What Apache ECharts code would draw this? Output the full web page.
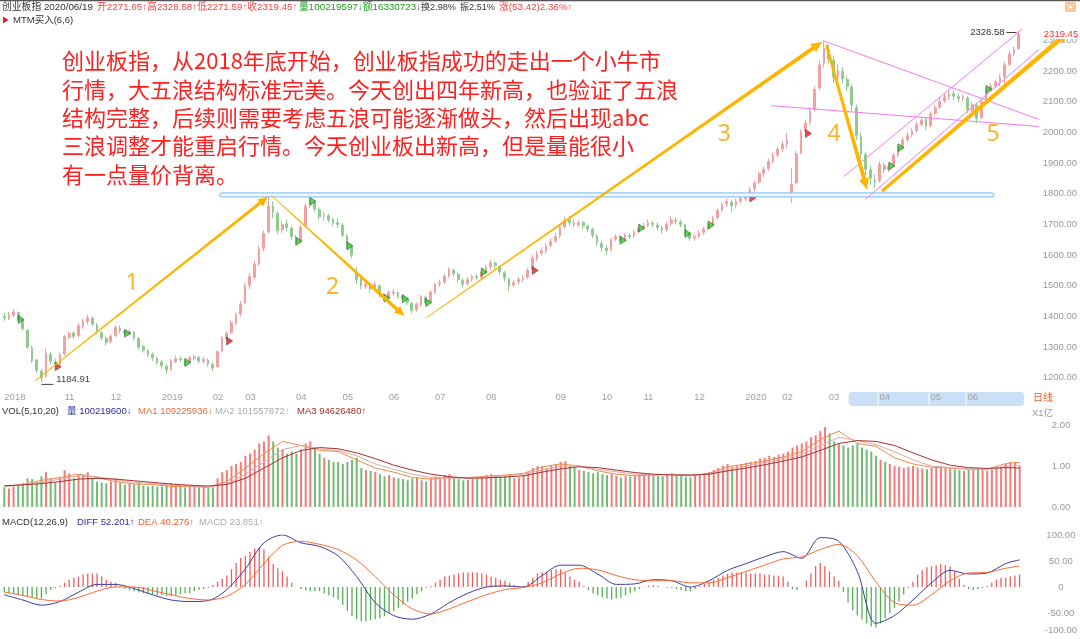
<!DOCTYPE html>
<html><head><meta charset="utf-8">
<script src="https://cdn.jsdelivr.net/npm/echarts@6/dist/echarts.min.js"></script>
<style>html,body{margin:0;padding:0;background:#fff}#c{width:1080px;height:639px}</style>
</head><body><div id="c"></div>
<script>
// ---------------- data ----------------
const monthLabels = ['2018','11','12','2019','02','03','04','05','06','07','08','09','10','11','12','2020','02','03','04','05','06'];
const monthStartBar = [0,13,23,34,45,52,63,73,83,93,104,119,129,138,149,160,168,178,189,200,208];
// [open, close, low, high]
const candles = [
[1400,1395,1385,1412],[1392,1405,1388,1415],[1404,1415,1398,1425],[1412,1390,1385,1416],[1388,1360,1355,1392],[1355,1300,1295,1358],[1298,1255,1248,1305],[1258,1225,1215,1262],[1222,1200,1185,1230],[1205,1280,1200,1295],
[1276,1255,1245,1285],[1252,1245,1236,1262],[1244,1275,1240,1282],[1278,1335,1272,1340],[1332,1345,1325,1352],[1346,1335,1325,1352],[1338,1370,1332,1378],[1368,1385,1360,1392],[1383,1395,1375,1406],[1394,1375,1368,1400],
[1372,1350,1342,1378],[1348,1330,1322,1352],[1328,1315,1305,1335],[1318,1335,1312,1342],[1338,1365,1332,1372],[1362,1355,1345,1370],[1352,1345,1336,1358],[1345,1350,1338,1360],[1348,1330,1322,1352],[1328,1300,1292,1332],
[1302,1290,1282,1308],[1288,1275,1268,1294],[1276,1265,1255,1282],[1262,1250,1242,1268],[1252,1240,1230,1258],[1238,1225,1212,1244],[1228,1255,1222,1262],[1252,1262,1248,1272],[1262,1258,1250,1270],[1256,1250,1240,1262],
[1252,1265,1245,1272],[1264,1268,1256,1276],[1266,1255,1248,1272],[1254,1260,1246,1268],[1258,1245,1236,1262],[1244,1232,1222,1250],[1236,1285,1232,1290],[1288,1330,1282,1336],[1328,1345,1320,1352],[1348,1380,1342,1388],
[1378,1405,1370,1412],[1408,1440,1400,1450],[1445,1500,1440,1510],[1502,1530,1490,1540],[1528,1570,1520,1582],[1572,1620,1565,1630],[1622,1670,1612,1680],[1675,1760,1670,1790],[1758,1740,1720,1775],[1735,1680,1668,1742],
[1682,1700,1672,1712],[1702,1690,1678,1715],[1688,1660,1650,1694],[1655,1645,1632,1666],[1648,1690,1640,1698],[1695,1760,1690,1768],[1765,1775,1752,1792],[1772,1750,1740,1780],[1748,1725,1715,1755],[1726,1730,1712,1742],
[1728,1715,1705,1735],[1716,1705,1695,1722],[1706,1700,1688,1720],[1698,1665,1658,1704],[1662,1630,1620,1668],[1628,1600,1590,1635],[1545,1520,1505,1560],[1522,1500,1488,1530],[1498,1505,1490,1518],[1506,1490,1478,1512],
[1492,1505,1485,1515],[1500,1470,1462,1505],[1468,1460,1450,1476],[1462,1478,1455,1485],[1476,1480,1468,1490],[1478,1465,1458,1484],[1466,1458,1448,1472],[1456,1445,1436,1462],[1442,1420,1410,1448],[1422,1440,1415,1446],
[1438,1465,1432,1470],[1462,1445,1438,1468],[1448,1480,1442,1485],[1478,1505,1472,1510],[1506,1510,1496,1520],[1512,1530,1505,1538],[1532,1552,1525,1560],[1550,1540,1530,1556],[1538,1520,1512,1542],[1518,1505,1495,1524],
[1506,1520,1500,1528],[1522,1530,1514,1536],[1530,1528,1518,1538],[1526,1545,1520,1552],[1546,1560,1538,1568],[1562,1575,1552,1585],[1574,1565,1555,1580],[1562,1545,1536,1566],[1542,1525,1515,1548],[1522,1500,1482,1526],
[1502,1510,1495,1518],[1512,1520,1505,1528],[1520,1525,1512,1535],[1528,1550,1522,1558],[1555,1590,1550,1600],[1588,1605,1580,1614],[1606,1615,1598,1624],[1614,1630,1606,1640],[1632,1645,1625,1655],[1646,1660,1640,1672],
[1662,1690,1655,1700],[1692,1712,1686,1725],[1714,1705,1695,1728],[1704,1700,1690,1716],[1698,1705,1692,1714],[1706,1695,1686,1712],[1694,1685,1676,1700],[1684,1665,1656,1690],[1662,1640,1630,1668],[1638,1625,1612,1645],
[1622,1615,1602,1632],[1618,1650,1612,1656],[1652,1660,1645,1668],[1658,1648,1640,1665],[1650,1665,1644,1672],[1664,1660,1652,1672],[1662,1675,1655,1682],[1676,1688,1670,1696],[1690,1695,1682,1705],[1696,1705,1690,1716],
[1704,1700,1690,1712],[1698,1690,1680,1706],[1688,1680,1670,1694],[1682,1700,1676,1708],[1702,1715,1695,1728],[1714,1710,1700,1724],[1708,1700,1690,1716],[1698,1670,1662,1702],[1668,1655,1646,1674],[1656,1660,1648,1668],
[1662,1672,1655,1680],[1674,1685,1666,1692],[1686,1698,1680,1706],[1700,1720,1694,1728],[1722,1745,1716,1752],[1746,1765,1740,1772],[1766,1775,1758,1784],[1772,1760,1740,1780],[1762,1775,1752,1784],[1776,1785,1768,1794],
[1784,1790,1775,1800],[1792,1815,1786,1822],[1816,1835,1808,1844],[1838,1865,1832,1872],[1866,1880,1855,1890],[1882,1905,1875,1914],[1906,1925,1898,1934],[1926,1945,1918,1955],[1946,1960,1935,1972],[1962,1975,1950,1998],
[1800,1830,1770,1884],[1835,1930,1830,1940],[1932,2000,1928,2010],[2004,2030,1996,2042],[2032,2070,2025,2082],[2075,2140,2068,2150],[2145,2220,2138,2235],[2225,2275,2210,2297],[2270,2240,2225,2285],[2235,2180,2160,2250],
[2182,2200,2170,2222],[2198,2175,2160,2212],[2172,2150,2135,2185],[2148,2090,2070,2158],[2080,1990,1975,2090],[1985,1930,1915,2000],[1928,1880,1860,1935],[1878,1850,1830,1890],[1845,1840,1820,1862],[1842,1895,1836,1905],
[1892,1880,1868,1900],[1878,1890,1870,1898],[1892,1925,1886,1932],[1926,1950,1918,1958],[1952,1975,1945,1985],[1976,1990,1968,2000],[1992,2005,1985,2015],[2006,2025,1998,2035],[2026,2040,2018,2052],[2042,2020,2008,2048],
[2022,2060,2015,2068],[2062,2080,2055,2090],[2082,2100,2075,2112],[2102,2115,2095,2128],[2118,2125,2105,2138],[2126,2118,2105,2134],[2116,2110,2098,2126],[2112,2115,2100,2124],[2112,2075,2062,2118],[2072,2090,2060,2100],
[2088,2045,2030,2094],[2048,2100,2042,2108],[2102,2140,2098,2148],[2142,2150,2135,2160],[2152,2165,2145,2172],[2166,2180,2150,2190],[2182,2220,2145,2230],[2222,2255,2215,2265],[2258,2270,2248,2280],[2271.65,2319.45,2271.59,2328.58]
];
// volume, 亿
const volume = [
0.48,0.45,0.5,0.52,0.58,0.7,0.68,0.6,0.75,0.85, 0.7,0.6,0.72,0.9,0.82,0.7,0.8,0.78,0.85,0.7,
0.62,0.6,0.58,0.62,0.7,0.6,0.55,0.58,0.55,0.6, 0.52,0.5,0.52,0.5,0.5,0.55,0.58,0.52,0.5,0.48,
0.5,0.52,0.48,0.5,0.46,0.48,0.7,0.85,0.9,1.0, 1.05,1.1,1.25,1.3,1.4,1.55,1.6,1.75,1.6,1.45,
1.4,1.3,1.35,1.3,1.4,1.55,1.6,1.45,1.3,1.2, 1.15,1.1,1.1,1.05,1.1,1.15,1.2,0.95,0.9,0.88,
0.85,0.8,0.75,0.78,0.72,0.7,0.68,0.65,0.7,0.72, 0.65,0.62,0.7,0.75,0.72,0.78,0.8,0.7,0.68,0.65,
0.66,0.68,0.7,0.75,0.78,0.8,0.76,0.72,0.75,0.8, 0.7,0.72,0.78,0.85,0.95,1.0,0.98,0.95,1.0,1.05,
1.1,1.12,1.0,0.95,0.9,0.88,0.85,0.82,0.85,0.8, 0.78,0.8,0.76,0.72,0.75,0.74,0.76,0.78,0.8,0.82,
0.78,0.76,0.75,0.78,0.82,0.8,0.78,0.74,0.72,0.76, 0.78,0.82,0.86,0.9,0.95,1.0,1.05,0.98,1.02,1.05,
1.08,1.1,1.12,1.18,1.2,1.25,1.22,1.28,1.3,1.35, 1.45,1.5,1.55,1.6,1.7,1.75,1.85,1.95,1.8,1.6,
1.55,1.5,1.45,1.5,1.55,1.45,1.4,1.35,1.25,1.15, 1.1,1.05,1.0,0.98,0.95,0.98,1.0,0.96,0.94,0.92,
0.95,0.98,1.0,0.96,0.94,0.92,0.9,0.88,0.9,0.92, 0.95,0.9,0.88,0.92,0.95,0.98,1.05,1.1,1.08,1.0
];
// volume moving averages, sampled every 4th bar (last = final bar)
const volMA1 = [0.5,0.55,0.65,0.72,0.8,0.72,0.62,0.56,0.55,0.5, 0.5,0.48,0.62,0.95,1.3,1.6,1.5,1.38,1.35,1.15, 0.95,0.85,0.72,0.68,0.72,0.72,0.75,0.78,0.82,0.98, 1.05,1.0,0.88,0.8,0.76,0.78,0.8,0.76,0.82,0.98, 1.05,1.12,1.22,1.35,1.65,1.85,1.55,1.48,1.2,1.05, 0.97,0.95,0.92,0.92,1.06,1.09];
const volMA2 = [0.5,0.54,0.6,0.68,0.76,0.74,0.66,0.6,0.57,0.53, 0.51,0.49,0.56,0.8,1.1,1.4,1.5,1.42,1.38,1.25, 1.05,0.92,0.8,0.72,0.7,0.71,0.73,0.76,0.8,0.9, 1.0,1.0,0.92,0.86,0.8,0.78,0.79,0.78,0.8,0.92, 1.0,1.08,1.18,1.28,1.5,1.7,1.62,1.52,1.35,1.15, 1.0,0.96,0.93,0.92,0.99,1.02];
const volMA3 = [0.52,0.54,0.57,0.62,0.68,0.7,0.68,0.64,0.6,0.56, 0.53,0.51,0.55,0.7,0.95,1.2,1.38,1.45,1.42,1.32, 1.18,1.02,0.9,0.8,0.74,0.7,0.71,0.73,0.76,0.85, 0.93,0.98,0.96,0.9,0.84,0.8,0.78,0.78,0.8,0.88, 0.95,1.03,1.12,1.22,1.38,1.55,1.62,1.6,1.5,1.32, 1.15,1.02,0.96,0.94,0.96,0.95];
// MACD lines sampled every 4th bar (last = final bar)
const macdDiff = [-15,-25,-35,-28,-10,5,5,-3,-15,-25, -28,-26,-5,35,85,100,85,78,60,20, -30,-55,-62,-52,-30,-12,0,2,0,22, 42,42,25,5,6,14,12,0,12,32, 45,58,68,55,95,88,30,-70,-55,-25, 8,32,25,27,45,52.2];
const macdDea  = [-10,-16,-24,-27,-20,-8,0,0,-7,-15, -22,-25,-18,5,45,80,88,82,72,52, 20,-15,-42,-52,-42,-28,-15,-5,-1,8, 25,36,33,22,14,12,12,8,8,18, 30,42,54,58,72,82,60,10,-30,-35, -15,12,27,28,36,40.3];
const macdHist = [
-10,-12,-14,-16,-18,-18,-20,-22,-22,-14, -6,-2,2,8,14,18,20,24,26,26,
26,20,14,10,8,2,-4,-6,-8,-10, -12,-14,-14,-16,-16,-18,-18,-16,-14,-12,
-12,-8,-6,-4,-2,4,10,16,22,34, 46,56,60,68,74,76,72,58,44,36,
30,20,8,0,-4,-6,-8,-8,-8,-12, -16,-20,-24,-34,-46,-56,-62,-66,-66,-64,
-62,-60,-56,-50,-46,-40,-34,-28,-22,-14, -8,-2,2,8,14,20,22,24,26,28,
28,28,28,26,24,20,18,14,12,8, 4,2,2,10,18,26,28,30,32,34,
34,28,20,14,10,2,-6,-12,-16,-20, -22,-24,-22,-20,-16,-12,-8,-4,0,2,
4,2,0,-2,-2,-4,-6,-8,-8,-4, 2,6,8,14,18,22,26,28,28,28,
28,26,26,26,24,24,22,22,20,10, -4,-6,0,12,26,40,46,40,30,20,
12,-10,-30,-45,-55,-62,-70,-76,-78,-70, -60,-50,-40,-28,-14,-2,10,24,32,38,
40,42,44,42,40,30,16,4,-4,-6, -4,-2,2,8,14,18,18,20,22,24
];
// MTM signal bars
const sellSignals = [3,26,39,63,66,74,82,86,91,103,133,137,147,152,191,193,212];
const buySignals = [11,48,114,161,173];
const priceTicks = [1200,1300,1400,1500,1600,1700,1800,1900,2000,2100,2200,2300];
// annotations in [bar, price]
const waveArrows = [[[6.6,1189],[56.9,1790]],[[57.7,1794],[86.4,1401]],[[91.2,1396],[176.6,2295]],[[177.5,2286],[186.3,1814]],[[189.5,1808],[229.9,2329]]];
const pinkLines = [[[176.8,2299],[223.4,2042]],[[165.6,2087],[223.4,2019]],[[181.3,1856],[219.7,2335]],[[185.9,1781],[223.4,2270]]];
const waveLabels = [['1',27.6,1506],['2',70.9,1494],['3',155.5,1992],['4',179.2,1992],['5',213.5,1992]];
const resistance = [46.5,213.7,1796];
const noteLines = ['创业板指，从2018年底开始，创业板指成功的走出一个小牛市','行情，大五浪结构标准完美。今天创出四年新高，也验证了五浪','结构完整，后续则需要考虑五浪可能逐渐做头，然后出现abc','三浪调整才能重启行情。今天创业板出新高，但是量能很小','有一点量价背离。'];
const headerParts = [['创业板指 2020/06/19','d'],['开2271.65↑高2328.58↑低2271.59↑收2319.45↑','r'],['量100219597↓额16330723↓','g'],['换2.98%','d'],['振2.51%','d'],['涨(53.42)2.36%↑','r']];

// ---------------- chart ----------------
const N = candles.length;
const cats = candles.map((_, i) => String(i));
const labelAt = {};
monthStartBar.forEach((b, j) => labelAt[b] = monthLabels[j]);
const UP = '#f4a0a0', DN = '#8fca8f';
const FONT = '"Liberation Sans", Arial, "Noto Sans CJK SC", sans-serif';
const sampIdx = k => Math.min(k * 4, N - 1);
const xAxisBase = (g) => ({type:'category', gridIndex:g, data:cats, boundaryGap:true,
  axisLine:{show:false}, axisTick:{show:false}, splitLine:{show:false}, axisLabel:{show:false}});
const yLab = {color:'#999', fontSize:9.5, fontFamily:FONT, align:'center', margin:39};

const chart = echarts.init(document.getElementById('c'));
const option = {
  animation:false, backgroundColor:'#fff',
  grid:[
    {left:2, right:58, top:28, height:359},
    {left:2, right:58, top:425, height:82},
    {left:2, right:58, top:535, height:107}
  ],
  xAxis:[
    Object.assign(xAxisBase(0), {axisLabel:{show:true, interval:(i)=> labelAt[i] !== undefined,
      formatter:(v,i)=> labelAt[i] || '', align:'left', color:'#a0a0a0', fontSize:9.5, fontFamily:FONT, margin:6}}),
    xAxisBase(1), xAxisBase(2)
  ],
  yAxis:[
    {type:'value', gridIndex:0, position:'right', min:1170, max:2340, scale:true,
     axisLine:{show:false}, axisTick:{show:false}, splitLine:{show:false},
     axisLabel:Object.assign({customValues:priceTicks, formatter:v=>v.toFixed(2)}, yLab)},
    {type:'value', gridIndex:1, position:'right', min:0, max:2, interval:1,
     axisLine:{show:false}, axisTick:{show:false}, splitLine:{show:false},
     axisLabel:Object.assign({formatter:v=>v.toFixed(2)}, yLab)},
    {type:'value', gridIndex:2, position:'right', min:-100, max:100, interval:50,
     axisLine:{show:false}, axisTick:{show:false}, splitLine:{show:false},
     axisLabel:Object.assign({formatter:v=> v===0 ? '0' : (v===-100 ? '{lo|-100.00}' : v.toFixed(2)),
       rich:{lo:{color:'#999', fontSize:9.5, fontFamily:FONT, padding:[0,0,18,0]}}}, yLab)}
  ],
  series:[
    {type:'candlestick', xAxisIndex:0, yAxisIndex:0, data:candles, barWidth:2.2,
     itemStyle:{color:UP, color0:DN, borderColor:UP, borderColor0:DN, borderWidth:1}},
    {type:'scatter', xAxisIndex:0, yAxisIndex:0, symbol:'path://M0,0 L0,12 L9,6 Z', symbolSize:[6,8], symbolOffset:[3,0],
     itemStyle:{color:'#22d022', borderColor:'#333', borderWidth:0.6}, z:5,
     data:sellSignals.map(i => [i, candles[i][1]])},
    {type:'scatter', xAxisIndex:0, yAxisIndex:0, symbol:'path://M0,0 L0,12 L9,6 Z', symbolSize:[6,8], symbolOffset:[3,0],
     itemStyle:{color:'#e02020', borderColor:'#333', borderWidth:0.6}, z:5,
     data:buySignals.map(i => [i, candles[i][2]])},
    {type:'bar', xAxisIndex:1, yAxisIndex:1, barWidth:2,
     data:volume.map((v,i)=>({value:v, itemStyle:{color: candles[i][1] >= candles[i][0] ? '#f47a7a' : '#72bb72'}}))},
    {type:'line', xAxisIndex:1, yAxisIndex:1, symbol:'none', lineStyle:{color:'#f28a4a', width:1}, data:volMA1.map((v,k)=>[sampIdx(k), v])},
    {type:'line', xAxisIndex:1, yAxisIndex:1, symbol:'none', lineStyle:{color:'#dcaaaa', width:1}, data:volMA2.map((v,k)=>[sampIdx(k), v])},
    {type:'line', xAxisIndex:1, yAxisIndex:1, symbol:'none', lineStyle:{color:'#a83030', width:1}, data:volMA3.map((v,k)=>[sampIdx(k), v])},
    {type:'bar', xAxisIndex:2, yAxisIndex:2, barWidth:1.3,
     data:macdHist.map(v=>({value:v, itemStyle:{color: v >= 0 ? '#f25c5c' : '#55b055'}}))},
    {type:'line', xAxisIndex:2, yAxisIndex:2, symbol:'none', smooth:0.3, lineStyle:{color:'#3c3c9c', width:1}, data:macdDiff.map((v,k)=>[sampIdx(k), v])},
    {type:'line', xAxisIndex:2, yAxisIndex:2, symbol:'none', smooth:0.3, lineStyle:{color:'#ff6a35', width:1}, data:macdDea.map((v,k)=>[sampIdx(k), v])}
  ]
};
chart.setOption(option);

// ---------------- overlays (positioned through the chart's scales) ----------------
const x0 = chart.convertToPixel({xAxisIndex:0}, 0);
const step = chart.convertToPixel({xAxisIndex:0}, 1) - x0;
const X = i => x0 + i * step;
const Y = p => chart.convertToPixel({yAxisIndex:0}, p);
const W = chart.getWidth();
const G = [];
const txt = (x, y, text, fill, size, extra) => G.push({type:'text', x, y, z:60,
  style:Object.assign({text, fill, fontSize:size, fontFamily:FONT, verticalAlign:'middle', align:'left'}, (extra||{}))});

function arrow(a, b, w0, w1, hl, hw, color) {
  const xa = X(a[0]), ya = Y(a[1]), xb = X(b[0]), yb = Y(b[1]);
  const dx = xb - xa, dy = yb - ya, L = Math.hypot(dx, dy), ux = dx / L, uy = dy / L, nx = -uy, ny = ux;
  const sx = xb - ux * hl, sy = yb - uy * hl;
  return {type:'polygon', z:55, shape:{points:[[xa+nx*w0/2, ya+ny*w0/2],[sx+nx*w1/2, sy+ny*w1/2],[sx+nx*hw/2, sy+ny*hw/2],[xb,yb],
    [sx-nx*hw/2, sy-ny*hw/2],[sx-nx*w1/2, sy-ny*w1/2],[xa-nx*w0/2, ya-ny*w0/2]]}, style:{fill:color}};
}
// top border + icon
G.push({type:'rect', z:60, shape:{x:0, y:0, width:W, height:1.2}, style:{fill:'#555'}});
G.push({type:'rect', z:60, shape:{x:1066, y:3, width:9, height:8}, style:{fill:'none', stroke:'#f08a3c', lineWidth:1}});
G.push({type:'rect', z:60, shape:{x:1068, y:5, width:5, height:4}, style:{fill:'none', stroke:'#f08a3c', lineWidth:0.8}});
// header line
const hdrColor = {d:'#333', r:'#ff4444', g:'#1e9e1e'};
const hdrX = [2, 97, 299, 421, 460, 499];
headerParts.forEach((p, k) => txt(hdrX[k], 7, p[0], hdrColor[p[1]], k === 3 || k === 4 ? 9.1 : 9.8));
G.push({type:'polygon', z:60, shape:{points:[[3,16.5],[3,23.5],[8.5,20]]}, style:{fill:'#e02020'}});
txt(13, 20, 'MTM买入(6,6)', '#333', 9.5);
// volume + macd headers
txt(2, 411, 'VOL(5,10,20)', '#333', 9.5);
txt(67, 411, '量 100219600↓', '#2c2ca0', 9.5);
txt(138, 411, 'MA1 109225936↓', '#f06a3a', 9.5);
txt(215, 411, 'MA2 101557872↑', '#aaaaaa', 9.5);
txt(297, 411, 'MA3 94626480↑', '#a82a2a', 9.5);
txt(2, 522, 'MACD(12,26,9)', '#333', 9.5);
txt(77, 522, 'DIFF 52.201↑', '#2c2ca0', 9.5);
txt(138, 522, 'DEA 40.276↑', '#ff5a2a', 9.5);
txt(199, 522, 'MACD 23.851↑', '#aaaaaa', 9.5);
txt(1032, 413, 'X1亿', '#999', 9.5);
txt(1033, 398, '日线', '#e8602c', 10);
// highlighted range on x axis
G.push({type:'rect', z:-5, shape:{x:X(monthStartBar[17]) + 20, y:392, width:W - 58 - (X(monthStartBar[17]) + 20) + 2, height:14, r:3}, style:{fill:'#c9e0f7'}});
[18,19,20].forEach(j => G.push({type:'rect', z:-4, shape:{x:X(monthStartBar[j]) - 2, y:393, width:1, height:12}, style:{fill:'#fff'}}));
// resistance band
G.push({type:'rect', z:50, shape:{x:X(resistance[0]), y:Y(resistance[2]) - 2, width:X(resistance[1]) - X(resistance[0]), height:4, r:2},
  style:{fill:'#eef7fe', stroke:'#7ab8ec', lineWidth:1}});
// pink trend lines
pinkLines.forEach(l => G.push({type:'line', z:52, shape:{x1:X(l[0][0]), y1:Y(l[0][1]), x2:X(l[1][0]), y2:Y(l[1][1])}, style:{stroke:'#f07af0', lineWidth:1}}));
// wave arrows
const aw = [[0.8,3,10,9],[0.8,3.5,10,9],[0.8,4,11,10],[2.5,4,11,10],[3,4.5,12,11]];
waveArrows.forEach((a, k) => G.push(arrow(a[0], a[1], aw[k][0], aw[k][1], aw[k][2], aw[k][3], '#FFB400')));
// wave labels
waveLabels.forEach(w => G.push({type:'text', z:60, x:X(w[1]), y:Y(w[2]), style:{text:w[0], fill:'#F9B530', fontSize:23, fontFamily:'"Noto Sans", sans-serif', align:'center', verticalAlign:'middle'}}));
// low / high labels
const lowBar = 8, hiBar = N - 1;
G.push({type:'line', z:60, shape:{x1:X(lowBar), y1:Y(candles[lowBar][2]) + 2, x2:X(lowBar) + 12, y2:Y(candles[lowBar][2]) + 2}, style:{stroke:'#444', lineWidth:1}});
txt(X(lowBar) + 15, Y(candles[lowBar][2]) - 3, '1184.91', '#3c4454', 9.5);
G.push({type:'line', z:60, shape:{x1:X(hiBar) - 12, y1:Y(candles[hiBar][3]) + 1, x2:X(hiBar) - 2, y2:Y(candles[hiBar][3]) + 1}, style:{stroke:'#444', lineWidth:1}});
txt(X(hiBar) - 14, Y(candles[hiBar][3]) + 1, '2328.58', '#333', 9.5, {align:'right'});
// current price tag on axis
G.push({type:'text', z:58, x:W - 19, y:Y(candles[hiBar][1]), style:{text:'2319.45', fill:'#ff3030', fontSize:9.5, fontFamily:FONT,
  align:'center', verticalAlign:'middle', backgroundColor:'#fff', padding:[0,1]}});
// commentary
noteLines.forEach((s, k) => G.push({type:'text', z:60, x:62, y:61 + k * 28.3, style:{text:s, fill:'#ff2020', fontSize:22,
  fontFamily:'"Noto Sans CJK SC", sans-serif', verticalAlign:'middle', align:'left'}}));

chart.setOption({graphic:G});
</script>
</body></html>
